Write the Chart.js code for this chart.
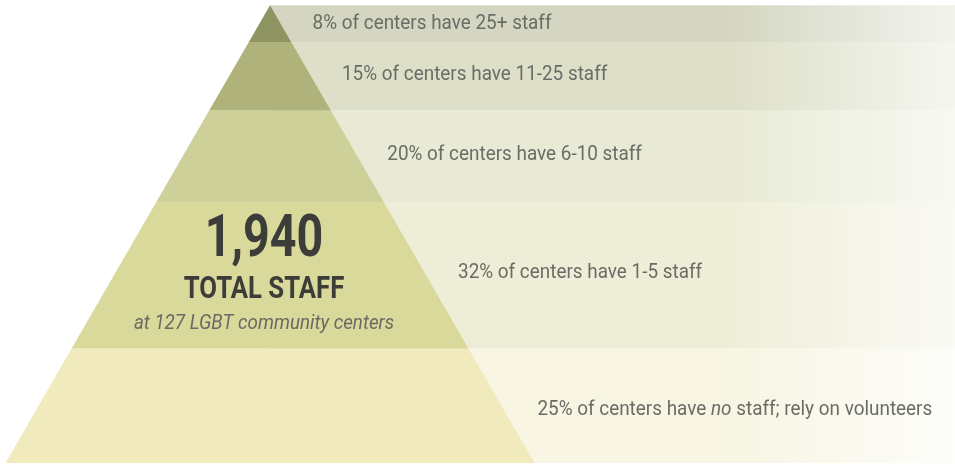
<!DOCTYPE html>
<html>
<head>
<meta charset="utf-8">
<script src="https://cdn.jsdelivr.net/npm/chart.js@4"></script>
<style>
  body { margin: 0; background: #fff; }
  canvas { display: block; }
</style>
</head>
<body>
<canvas id="mycanvas" width="955" height="465"></canvas>
<script>
// share of centers in each staff-size group, top of the pyramid first
var groups = ['25+ staff', '11-25 staff', '6-10 staff', '1-5 staff', 'no staff'];
var shares = [8, 15, 20, 32, 25];
var labelTexts = [
  '8% of centers have 25+ staff',
  '15% of centers have 11-25 staff',
  '20% of centers have 6-10 staff',
  '32% of centers have 1-5 staff',
  '25% of centers have *no* staff; rely on volunteers' // *...* = italic
];
var totalStaff = '1,940';
var totalTitle = 'TOTAL STAFF';
var totalNote = 'at 127 LGBT community centers';

var pyramidColors = ['#8f9562', '#afb37b', '#cdd098', '#d8d99b', '#f0eabc'];
var bandColors = ['#d4d6c1', '#dddfc8', '#e8ead5', '#eeeed8', '#f8f5e3'];
var bandFade = ['#f3f3ee', '#f5f6ef', '#f8f9f2', '#fafaf5', '#fdfdf9'];

var XMIN = -1.0208, XMAX = 2.5898; // x unit = half the pyramid base

// cumulative depth of each layer edge
var cum = [0];
shares.forEach(function(s){ cum.push(cum[cum.length - 1] + s); });

var datasets = [];
shares.forEach(function(s, i){
  var t = cum[i], b = cum[i + 1];
  datasets.push({
    label: groups[i],
    data: [{x: -t/100, y: t}, {x: t/100, y: t}, {x: b/100, y: b}, {x: -b/100, y: b}, {x: -t/100, y: t}],
    showLine: true, fill: 'shape', pointRadius: 0, borderWidth: 0,
    borderColor: 'rgba(0,0,0,0)', backgroundColor: pyramidColors[i], order: 1
  });
});
shares.forEach(function(s, i){
  var t = cum[i], b = cum[i + 1];
  datasets.push({
    label: groups[i] + ' band',
    data: [{x: 0, y: t}, {x: XMAX, y: t}, {x: XMAX, y: b}, {x: 0, y: b}, {x: 0, y: t}],
    showLine: true, fill: 'shape', pointRadius: 0, borderWidth: 0,
    borderColor: 'rgba(0,0,0,0)', order: 2,
    backgroundColor: function(c) {
      var area = c.chart.chartArea;
      if (!area) return bandColors[i];
      var g = c.chart.ctx.createLinearGradient(area.left + area.width * 0.76, 0, area.right, 0);
      g.addColorStop(0, bandColors[i]);
      g.addColorStop(1, bandFade[i]);
      return g;
    }
  });
});

function condensedText(ctx, text, x, y, font, color, sx, align) {
  ctx.save();
  ctx.font = font;
  ctx.fillStyle = color;
  ctx.textBaseline = 'middle';
  var w = ctx.measureText(text).width * sx;
  ctx.translate(align === 'center' ? x - w / 2 : x, y);
  ctx.scale(sx, 1);
  ctx.fillText(text, 0, 0);
  ctx.restore();
}

var labelGap = [32, 31, 30, 32, 36];
var labelShift = [0, -1, -2, -3, 4];

var textPlugin = {
  id: 'pyramidText',
  afterDatasetsDraw: function(chart) {
    var ctx = chart.ctx, xs = chart.scales.x, ys = chart.scales.y;
    var sx = 0.9;
    shares.forEach(function(s, i){
      var mid = cum[i] + s / 2;
      var y = ys.getPixelForValue(mid) + labelShift[i];
      var x = xs.getPixelForValue(mid / 100) + labelGap[i];
      // split into plain / italic parts
      labelTexts[i].split('*').forEach(function(part, k){
        if (!part) return;
        var font = (k % 2 ? 'italic ' : '') + '21px Roboto';
        ctx.save();
        ctx.font = font;
        var w = ctx.measureText(part).width * sx;
        ctx.restore();
        condensedText(ctx, part, x, y, font, '#6c6c66', sx, 'left');
        x += w;
      });
    });
    // total staff in the 1-5 staff layer
    var cx = xs.getPixelForValue(0) - 6;
    var cy = ys.getPixelForValue(cum[3] + shares[3] / 2);
    condensedText(ctx, totalStaff, cx, cy - 34, 'bold 59px Roboto', '#3c3c39', 0.79, 'center');
    condensedText(ctx, totalTitle, cx, cy + 15, 'bold 31px Roboto', '#3c3c39', 0.83, 'center');
    condensedText(ctx, totalNote, cx, cy + 48, 'italic 21px Roboto', '#6a6a64', 0.895, 'center');
  }
};

var ctx = document.getElementById('mycanvas');

var pyramid = new Chart(ctx, {
  type: 'scatter',
  data: { datasets: datasets },
  options: {
    responsive: false,
    animation: false,
    layout: { padding: 0 },
    plugins: {
      legend: { display: false },
      tooltip: { enabled: false }
    },
    scales: {
      x: { type: 'linear', min: XMIN, max: XMAX, display: false },
      y: { type: 'linear', min: -1.16, max: 100.44, reverse: true, display: false }
    }
  },
  plugins: [textPlugin]
});
</script>
</body>
</html>
